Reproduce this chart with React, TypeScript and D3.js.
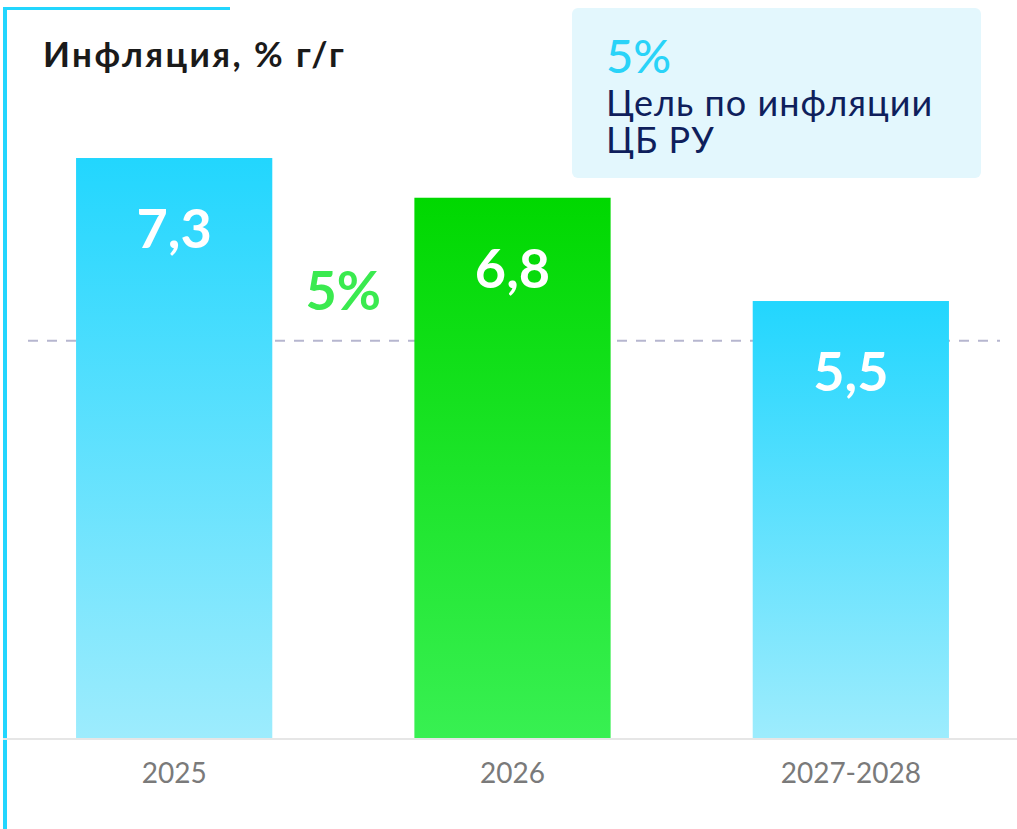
import * as d3 from 'd3';

// DATA
const categories = ['2025', '2026', '2027-2028'];
const values = [7.3, 6.8, 5.5];
const valueLabels = ['7,3', '6,8', '5,5'];
const highlight = [false, true, false];
const target = 5;
const targetLabel = '5%';
const title = 'Инфляция, % г/г';
const legendLines = ['Цель по инфляции', 'ЦБ РУ'];

const W = 1017;
const H = 829;
const baseY = 738;
const FONT = 'Lato, "Noto Sans", sans-serif';

function App() {
  // scales
  const x = d3
    .scaleBand<string>()
    .domain(categories)
    .range([5, 1020])
    .paddingInner(0.42)
    .paddingOuter(0.21);

  const y = d3.scaleLinear().domain([0, 8]).range([baseY, baseY - 8 * 79.45]);

  const yTarget = y(target);
  const midGap = ((x(categories[0]) as number) + x.bandwidth() + (x(categories[1]) as number)) / 2;

  return (
    <svg
      width={W}
      height={H}
      style={{ position: 'absolute', left: 0, top: 0, fontFamily: FONT }}
    >
      <defs>
        <linearGradient id='grad-cyan' x1='0' y1='0' x2='0' y2='1'>
          <stop offset='0' stopColor='#22d6fe' />
          <stop offset='1' stopColor='#9decfd' />
        </linearGradient>
        <linearGradient id='grad-green' x1='0' y1='0' x2='0' y2='1'>
          <stop offset='0' stopColor='#00d800' />
          <stop offset='1' stopColor='#38f052' />
        </linearGradient>
      </defs>

      <rect width={W} height={H} fill='#ffffff' />

      {/* frame corner */}
      <rect x={3} y={7} width={227} height={3} fill='#22d6fe' />
      <rect x={3} y={7} width={4} height={H - 7} fill='#22d6fe' />

      {/* title */}
      <text x={43} y={67} fontSize={35} fontWeight={700} letterSpacing={2.4} fill='#1a1a1a'>
        {title}
      </text>

      {/* legend box */}
      <rect x={572} y={8} width={409} height={170} rx={6} fill='#e3f7fd' />
      <text x={606} y={73} fontSize={47} fontWeight={500} fill='#29d3f8'>
        {targetLabel}
      </text>
      <text x={606} y={116} fontSize={36} fontWeight={400} letterSpacing={1} fill='#0f1f5c'>
        {legendLines.map((line, i) => (
          <tspan key={line} x={606} dy={i === 0 ? 0 : 37}>
            {line}
          </tspan>
        ))}
      </text>

      {/* target dashed line */}
      <line
        x1={28}
        x2={1000}
        y1={yTarget}
        y2={yTarget}
        stroke='#b6b6cf'
        strokeWidth={2}
        strokeDasharray='10 9'
      />

      {/* axis line */}
      <line x1={3} x2={W} y1={baseY + 1} y2={baseY + 1} stroke='#e6e6e6' strokeWidth={2} />

      {/* bars */}
      {categories.map((c, i) => (
        <g key={c}>
          <rect
            x={x(c)}
            y={y(values[i])}
            width={x.bandwidth()}
            height={baseY - y(values[i])}
            fill={highlight[i] ? 'url(#grad-green)' : 'url(#grad-cyan)'}
          />
          <text
            x={(x(c) as number) + x.bandwidth() / 2}
            y={y(values[i]) + 90}
            textAnchor='middle'
            fontSize={54}
            fontWeight={700}
            fill='#ffffff'
          >
            {valueLabels[i]}
          </text>
          <text
            x={(x(c) as number) + x.bandwidth() / 2}
            y={783}
            textAnchor='middle'
            fontSize={28}
            fill='#7a7a7a'
          >
            {c}
          </text>
        </g>
      ))}

      {/* target label */}
      <text
        x={midGap}
        y={yTarget - 31}
        textAnchor='middle'
        fontSize={54}
        fontWeight={700}
        fill='#3aea4f'
      >
        {targetLabel}
      </text>
    </svg>
  );
}

export default App;
